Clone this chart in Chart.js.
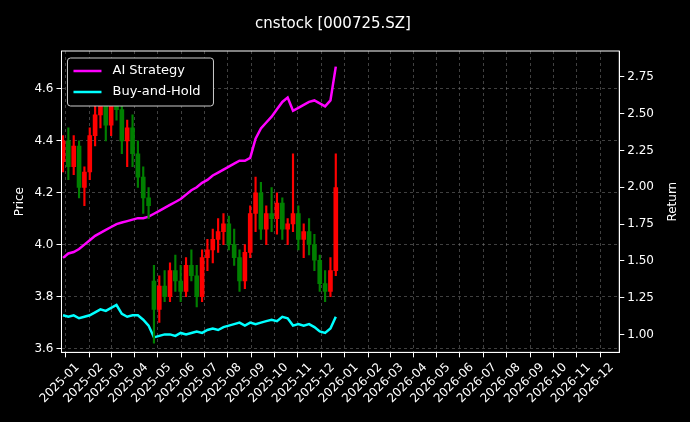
<!DOCTYPE html>
<html>
<head>
<meta charset="utf-8">
<script src="https://cdn.jsdelivr.net/npm/chart.js@4.4.1/dist/chart.umd.min.js"></script>
<style>
  html, body { margin: 0; padding: 0; background: #000; }
  #wrap { width: 690px; height: 422px; }
</style>
</head>
<body>
<div id="wrap"><canvas id="chart"></canvas></div>
<script>
const dates = ['2024-12-13','2024-12-20','2024-12-27','2025-01-03','2025-01-10','2025-01-17','2025-01-24','2025-01-31',
  '2025-02-07','2025-02-14','2025-02-21','2025-02-28','2025-03-07','2025-03-14','2025-03-21','2025-03-28',
  '2025-04-04','2025-04-11','2025-04-18','2025-04-25','2025-05-02','2025-05-09','2025-05-16','2025-05-23',
  '2025-05-30','2025-06-06','2025-06-13','2025-06-20','2025-06-27','2025-07-04','2025-07-11','2025-07-18',
  '2025-07-25','2025-08-01','2025-08-08','2025-08-15','2025-08-22','2025-08-29','2025-09-05','2025-09-12',
  '2025-09-19','2025-09-26','2025-10-03','2025-10-10','2025-10-17','2025-10-24','2025-10-31','2025-11-07',
  '2025-11-14','2025-11-21','2025-11-28','2025-12-05'];
const open  = [4.32,4.40,4.30,4.38,4.22,4.28,4.42,4.50,4.55,4.46,4.56,4.52,4.40,4.45,4.35,4.26,4.18,3.86,3.75,3.84,3.80,3.90,3.86,3.82,3.92,3.88,3.80,3.95,3.98,4.02,4.05,4.08,4.00,3.95,3.86,3.97,4.12,4.20,4.06,4.12,4.10,4.16,4.06,4.08,4.12,4.02,4.05,4.00,3.94,3.85,3.82,3.90];
const high  = [4.42,4.45,4.42,4.40,4.30,4.45,4.56,4.62,4.60,4.60,4.62,4.56,4.48,4.50,4.40,4.30,4.22,3.92,3.88,3.90,3.93,3.96,3.92,3.95,3.98,3.92,3.98,4.02,4.06,4.10,4.12,4.11,4.06,3.98,4.00,4.15,4.26,4.24,4.15,4.22,4.20,4.18,4.10,4.35,4.15,4.08,4.10,4.04,3.96,3.90,3.95,4.35];
const low   = [4.28,4.25,4.27,4.18,4.15,4.25,4.38,4.45,4.40,4.42,4.48,4.35,4.30,4.30,4.22,4.12,4.10,3.62,3.70,3.78,3.78,3.82,3.78,3.80,3.86,3.76,3.78,3.90,3.93,3.97,4.00,3.98,3.92,3.82,3.83,3.95,4.05,4.02,4.00,4.05,4.04,4.02,4.00,4.05,3.98,3.95,3.96,3.90,3.82,3.78,3.80,3.88];
const close = [4.40,4.30,4.38,4.22,4.28,4.42,4.50,4.55,4.46,4.56,4.52,4.40,4.45,4.35,4.26,4.18,4.15,3.75,3.84,3.80,3.90,3.86,3.82,3.92,3.88,3.80,3.95,3.98,4.02,4.05,4.08,4.00,3.95,3.86,3.97,4.12,4.20,4.06,4.12,4.10,4.16,4.06,4.08,4.12,4.02,4.05,4.00,3.94,3.85,3.82,3.90,4.22];
const aiReturn = [1.52,1.55,1.56,1.58,1.61,1.64,1.67,1.69,1.71,1.73,1.75,1.76,1.77,1.78,1.79,1.79,1.80,1.82,1.84,1.86,1.88,1.90,1.92,1.95,1.98,2.00,2.03,2.05,2.08,2.10,2.12,2.14,2.16,2.18,2.18,2.20,2.33,2.40,2.44,2.48,2.53,2.58,2.61,2.52,2.54,2.56,2.58,2.59,2.57,2.55,2.59,2.82];
const bhReturn = [1.13,1.12,1.13,1.11,1.12,1.13,1.15,1.17,1.16,1.18,1.20,1.14,1.12,1.13,1.13,1.10,1.06,0.98,0.99,1.00,1.00,0.99,1.01,1.00,1.01,1.02,1.01,1.03,1.04,1.03,1.05,1.06,1.07,1.08,1.06,1.08,1.07,1.08,1.09,1.10,1.09,1.12,1.11,1.06,1.07,1.06,1.07,1.05,1.02,1.01,1.04,1.12];
const monthTicks = ['2025-01','2025-02','2025-03','2025-04','2025-05','2025-06','2025-07','2025-08','2025-09','2025-10','2025-11','2025-12',
  '2026-01','2026-02','2026-03','2026-04','2026-05','2026-06','2026-07','2026-08','2026-09','2026-10','2026-11','2026-12'];

const DAY = 86400000;
const base = Date.parse('2025-01-01');
const dayOf = s => (Date.parse(s) - base) / DAY;
const xs = dates.map(dayOf);
const tickDays = monthTicks.map(m => dayOf(m + '-01'));
const candleColor = i => close[i] >= open[i] ? '#ff0000' : '#008000';
const FONT = 'DejaVu Sans';

const legendBox = {
  id: 'legendBox',
  afterDraw(chart) {
    const { ctx, chartArea } = chart;
    const items = chart.data.datasets.filter(d => d.type === 'line');
    const x = chartArea.left + 6, y = chartArea.top + 7;
    ctx.save();
    ctx.fillStyle = '#000';
    ctx.strokeStyle = '#ccc';
    ctx.lineWidth = 1;
    ctx.beginPath();
    ctx.roundRect(x, y, 146, 48, 3);
    ctx.fill();
    ctx.stroke();
    ctx.font = '13px "' + FONT + '"';
    ctx.textBaseline = 'middle';
    items.forEach((d, i) => {
      const ly = y + 13 + i * 21;
      ctx.strokeStyle = d.borderColor;
      ctx.lineWidth = 2.5;
      ctx.beginPath();
      ctx.moveTo(x + 6, ly);
      ctx.lineTo(x + 34, ly);
      ctx.stroke();
      ctx.fillStyle = '#fff';
      ctx.fillText(d.label, x + 45, ly);
    });
    // right axis title, reading bottom to top
    ctx.translate(chart.width - 17, (chartArea.top + chartArea.bottom) / 2);
    ctx.rotate(-Math.PI / 2);
    ctx.font = '12px "' + FONT + '"';
    ctx.textAlign = 'center';
    ctx.fillText('Return', 0, 0);
    ctx.restore();
  }
};

new Chart(document.getElementById('chart'), {
  data: {
    datasets: [
      {
        type: 'bar', label: 'wick', yAxisID: 'y',
        data: xs.map((x, i) => ({ x, y: [low[i], high[i]] })),
        backgroundColor: xs.map((_, i) => candleColor(i)),
        barThickness: 1.5, grouped: false
      },
      {
        type: 'bar', label: 'body', yAxisID: 'y',
        data: xs.map((x, i) => ({ x, y: [open[i], close[i]] })),
        backgroundColor: xs.map((_, i) => candleColor(i)),
        barThickness: 4, grouped: false
      },
      {
        type: 'line', label: 'AI Strategy', yAxisID: 'y1',
        data: xs.map((x, i) => ({ x, y: aiReturn[i] })),
        borderColor: '#ff00ff', borderWidth: 2.5, pointRadius: 0, tension: 0
      },
      {
        type: 'line', label: 'Buy-and-Hold', yAxisID: 'y1',
        data: xs.map((x, i) => ({ x, y: bhReturn[i] })),
        borderColor: '#00ffff', borderWidth: 2.5, pointRadius: 0, tension: 0
      }
    ]
  },
  options: {
    responsive: true,
    maintainAspectRatio: false,
    animation: false,
    layout: { padding: { top: 15, right: 33, left: 9, bottom: 13 } },
    plugins: {
      legend: { display: false },
      tooltip: { enabled: false },
      title: {
        display: true, text: 'cnstock [000725.SZ]', color: '#fff',
        font: { family: FONT, size: 15, weight: 'normal' },
        padding: { top: 0, bottom: 18 }
      }
    },
    scales: {
      x: {
        type: 'linear', min: -21, max: 709, offset: false,
        afterBuildTicks: axis => { axis.ticks = tickDays.map(v => ({ value: v })); },
        ticks: {
          color: '#fff', font: { family: FONT, size: 12 },
          maxRotation: 45, minRotation: 45, autoSkip: false,
          callback: v => monthTicks[tickDays.indexOf(v)]
        },
        grid: { color: 'rgba(128,128,128,0.5)', tickColor: '#fff', tickLength: 5 },
        border: { color: '#fff', dash: [3, 3] }
      },
      y: {
        position: 'left', min: 3.585, max: 4.746,
        afterBuildTicks: axis => { axis.ticks = [3.6, 3.8, 4.0, 4.2, 4.4, 4.6].map(v => ({ value: v })); },
        ticks: { color: '#fff', font: { family: FONT, size: 12 }, callback: v => v.toFixed(1) },
        title: { display: true, text: 'Price', color: '#fff', font: { family: FONT, size: 12 } },
        grid: { color: 'rgba(128,128,128,0.5)', tickColor: '#fff', tickLength: 5 },
        border: { color: '#fff', dash: [3, 3] }
      },
      y1: {
        position: 'right', min: 0.878, max: 2.926,
        afterBuildTicks: axis => { axis.ticks = [1.0, 1.25, 1.5, 1.75, 2.0, 2.25, 2.5, 2.75].map(v => ({ value: v })); },
        ticks: { color: '#fff', font: { family: FONT, size: 12 }, callback: v => v.toFixed(2) },
        grid: { drawOnChartArea: false, tickColor: '#fff', tickLength: 5 },
        border: { color: '#fff' }
      }
    }
  },
  plugins: [legendBox, {
    id: 'frame',
    afterDraw(chart) {
      const { ctx, chartArea: a } = chart;
      ctx.save();
      ctx.strokeStyle = '#fff';
      ctx.lineWidth = 1;
      ctx.strokeRect(a.left, a.top, a.right - a.left, a.bottom - a.top);
      ctx.restore();
    }
  }]
});
</script>
</body>
</html>
